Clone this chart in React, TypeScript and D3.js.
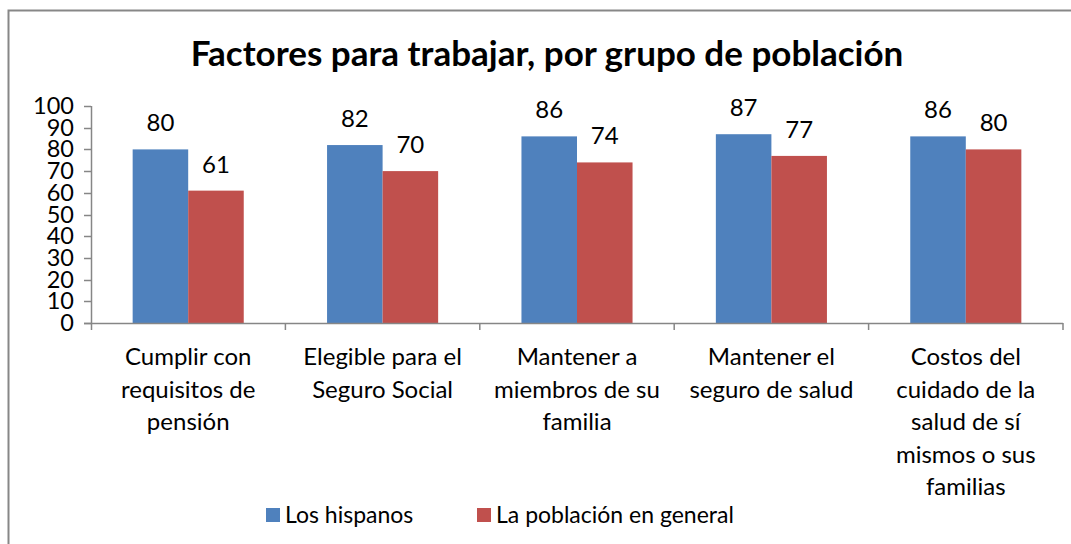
import React, { useEffect, useRef } from 'react';
import * as d3 from 'd3';

const title = 'Factores para trabajar, por grupo de población';
const categories = [
    ['Cumplir con', 'requisitos de', 'pensión'],
    ['Elegible para el', 'Seguro Social'],
    ['Mantener a', 'miembros de su', 'familia'],
    ['Mantener el', 'seguro de salud'],
    ['Costos del', 'cuidado de la', 'salud de sí', 'mismos o sus', 'familias'],
];
const seriesNames = ['Los hispanos', 'La población en general'];
const hispanos = [80, 82, 86, 87, 86];
const general = [61, 70, 74, 77, 80];
const yTicks = [0, 10, 20, 30, 40, 50, 60, 70, 80, 90, 100];
const colors = ['#4F81BD', '#C0504D'];

const W = 1071;
const H = 544;
const FONT = 'Lato, "Open Sans", sans-serif';

export default function App() {
    const svgRef = useRef<SVGSVGElement>(null);

    useEffect(() => {
        if (!svgRef.current) return;
        const svg = d3.select(svgRef.current);
        svg.selectAll('*').remove();

        // chart area border (right and bottom are outside the window)
        svg.append('rect')
            .attr('x', 8.5).attr('y', 10.5)
            .attr('width', W + 20).attr('height', H + 20)
            .attr('fill', '#fff')
            .attr('stroke', '#878787')
            .attr('stroke-width', 2);

        svg.append('text')
            .attr('x', 547).attr('y', 66)
            .attr('text-anchor', 'middle')
            .attr('font-family', FONT)
            .attr('font-weight', 'bold')
            .attr('font-size', 35)
            .text(title);

        const left = 91, right = 1063, top = 106, bottom = 323;

        const x0 = d3.scaleBand<number>()
            .domain(categories.map((_, i) => i))
            .range([left, right]);
        const x1 = d3.scaleBand<number>()
            .domain([0, 1])
            .range([0, x0.bandwidth()])
            .paddingOuter(0.75)
            .paddingInner(0);
        const y = d3.scaleLinear().domain([0, 100]).range([bottom, top]);

        const data = [hispanos, general];

        // bars + value labels
        data.forEach((series, s) => {
            svg.append('g')
                .selectAll('rect')
                .data(series)
                .join('rect')
                .attr('x', (_, i) => x0(i)! + x1(s)!)
                .attr('y', d => y(d))
                .attr('width', x1.bandwidth())
                .attr('height', d => y(0) - y(d))
                .attr('fill', colors[s]);

            svg.append('g')
                .selectAll('text')
                .data(series)
                .join('text')
                .attr('x', (_, i) => x0(i)! + x1(s)! + x1.bandwidth() / 2)
                .attr('y', d => y(d) - 18)
                .attr('text-anchor', 'middle')
                .attr('font-family', FONT)
                .attr('font-size', 24)
                .text(d => d);
        });

        // y axis
        const axisColor = '#868686';
        svg.append('line')
            .attr('x1', left + 0.5).attr('x2', left + 0.5)
            .attr('y1', top).attr('y2', bottom + 7)
            .attr('stroke', axisColor).attr('stroke-width', 1.5);
        yTicks.forEach(t => {
            svg.append('line')
                .attr('x1', left - 7).attr('x2', left)
                .attr('y1', Math.round(y(t)) + 0.5).attr('y2', Math.round(y(t)) + 0.5)
                .attr('stroke', axisColor).attr('stroke-width', 1.5);
            svg.append('text')
                .attr('x', 74).attr('y', y(t) + 8)
                .attr('text-anchor', 'end')
                .attr('font-family', FONT)
                .attr('font-size', 23.5)
                .text(t);
        });

        // x axis
        svg.append('line')
            .attr('x1', left - 7).attr('x2', right)
            .attr('y1', bottom + 0.5).attr('y2', bottom + 0.5)
            .attr('stroke', axisColor).attr('stroke-width', 1.5);
        categories.forEach((_, i) => {
            const bx = x0(i)! + x0.bandwidth();
            svg.append('line')
                .attr('x1', bx).attr('x2', bx)
                .attr('y1', bottom).attr('y2', bottom + 7)
                .attr('stroke', axisColor).attr('stroke-width', 1.5);
        });
        categories.forEach((lines, i) => {
            const cx = x0(i)! + x0.bandwidth() / 2;
            const t = svg.append('text')
                .attr('text-anchor', 'middle')
                .attr('font-family', FONT)
                .attr('font-size', 24);
            lines.forEach((ln, j) => {
                t.append('tspan').attr('x', cx).attr('y', 365 + j * 32.5).text(ln);
            });
        });

        // legend
        const legendX = [266, 477];
        seriesNames.forEach((name, s) => {
            svg.append('rect')
                .attr('x', legendX[s]).attr('y', 508)
                .attr('width', 14).attr('height', 14)
                .attr('fill', colors[s]);
            svg.append('text')
                .attr('x', legendX[s] + 19).attr('y', 523)
                .attr('font-family', FONT)
                .attr('font-size', 23)
                .text(name);
        });
    }, []);

    return (
        <div style={{ position: 'absolute', left: 0, top: 0 }}>
            <svg ref={svgRef} width={W} height={H} style={{ display: 'block' }} />
        </div>
    );
}
